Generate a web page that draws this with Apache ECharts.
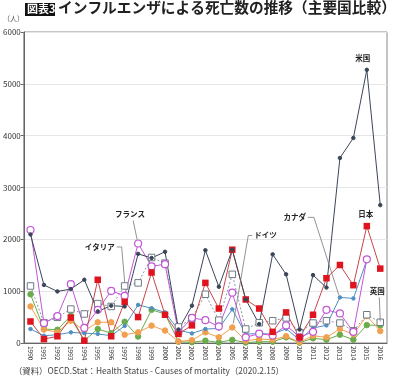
<!DOCTYPE html>
<html><head><meta charset="utf-8">
<script src="https://cdn.jsdelivr.net/npm/echarts@6/dist/echarts.min.js"></script>
<style>html,body{margin:0;padding:0;background:#fff}#c{width:394px;height:380px}</style>
</head><body><div id="c"></div>
<script>
const years = ['1990','1991','1992','1993','1994','1995','1996','1997','1998','1999','2000','2001','2002','2003','2004','2005','2006','2007','2008','2009','2010','2011','2012','2013','2014','2015','2016'];
const usa     = [2095,1120,995,1040,1220,610,720,705,1720,1640,1760,260,720,1790,1085,1800,840,365,1710,1325,260,1310,1070,3570,3955,5270,2660];
const japan   = [415,75,130,490,45,1220,130,795,500,1360,545,175,340,1160,665,1800,840,665,215,590,110,545,1250,1505,1115,2255,1435];
const france  = [2180,385,520,1135,290,640,1005,910,1920,1480,1520,205,485,440,320,970,110,180,145,340,115,215,640,570,215,1615,null];
const italy   = [1100,390,495,655,560,760,705,1100,1160,1650,1540,310,475,940,440,1325,270,390,430,485,200,385,430,385,235,545,400];
const canada  = [270,140,160,205,190,175,140,330,735,670,590,250,185,270,280,650,170,185,170,275,60,290,340,880,860,1600,null];
const germany = [705,260,205,430,237,400,400,160,205,335,240,30,55,205,110,300,45,75,65,130,15,140,110,270,170,520,230];
const uk      = [940,270,255,525,45,270,190,410,125,640,560,25,15,45,12,60,8,25,25,110,5,90,65,160,65,345,340];
const yTicks = [0,1000,2000,3000,4000,5000,6000];

const FONT = '"Noto Sans CJK JP", "Noto Sans", sans-serif';
const chart = echarts.init(document.getElementById('c'), null, {renderer:'canvas'});

function ser(name, data, color, symbol, size, opts) {
  return Object.assign({
    name, type:'line', data, symbol, symbolSize:size, showAllSymbol:true,
    connectNulls:false,
    lineStyle:{color, width:1},
    itemStyle:{color, borderColor:color, borderWidth:1},
    emphasis:{disabled:true}
  }, opts||{});
}

const staticGraphic = [
  {type:'rect', left:25, top:3, shape:{width:30, height:13}, style:{fill:'#111'}},
  {type:'text', left:27, top:3.5, style:{text:'図表3', fill:'#fff', font:'bold 11px '+FONT}},
  {type:'text', left:58, top:0.5, style:{text:'インフルエンザによる死亡数の推移（主要国比較）', fill:'#222', font:'bold 14.7px '+FONT}},
  {type:'text', left:3, top:15, style:{text:'（人）', fill:'#555', font:'7px '+FONT}},
  {type:'text', left:14, top:367, style:{text:'（資料）OECD.Stat：Health Status - Causes of mortality（2020.2.15）', fill:'#444', font:'8.4px '+FONT}}
];

chart.setOption({
  animation:false,
  grid:{left:23, right:7, top:32, bottom:37, show:true, borderColor:'#8a8a8a', borderWidth:1},
  xAxis:{type:'category', data:years, boundaryGap:true,
    axisLine:{lineStyle:{color:'#666'}}, axisTick:{show:false},
    axisLabel:{rotate:-90, fontSize:6.5, color:'#333', margin:3, interval:0, fontFamily:FONT}},
  yAxis:{type:'value', min:yTicks[0], max:yTicks[yTicks.length-1], interval:1000,
    axisLine:{show:true, lineStyle:{color:'#666'}}, axisTick:{show:true, length:3, lineStyle:{color:'#666'}},
    axisLabel:{fontSize:8, color:'#333', margin:3, fontFamily:FONT, formatter:(v)=>String(v)},
    splitLine:{lineStyle:{color:'#e6e6e6'}}},
  series:[
    ser('英国', uk, '#6aab4c', 'circle', 5.5),
    ser('ドイツ', germany, '#f0a04e', 'circle', 5.5),
    ser('カナダ', canada, '#4f8fc2', 'circle', 3.5),
    ser('イタリア', italy, '#8a96a2', 'rect', 6.5, {lineStyle:{color:'#8a96a2', width:1, type:[2,2]}, itemStyle:{color:'#fff', borderColor:'#6f7a85', borderWidth:1}}),
    ser('フランス', france, '#c256d6', 'circle', 7, {itemStyle:{color:'#fff', borderColor:'#c256d6', borderWidth:1.2}}),
    ser('日本', japan, '#d9262e', 'rect', 6.5, {lineStyle:{color:'#c8454a', width:1}, itemStyle:{color:'#e0141e'}}),
    ser('米国', usa, '#3a4658', 'circle', 3.5)
  ],
  graphic: staticGraphic
});

function px(i, v){ return chart.convertToPixel({gridIndex:0}, [i, v]); }
const lead = {stroke:'#777', lineWidth:0.8, fill:null};
const labelFont = 'bold 7.5px '+FONT;
const leaders = [];
function addLabel(text, x, y, align){
  leaders.push({type:'text', x, y, style:{text, fill:'#222', font:labelFont, textAlign:align||'left', textVerticalAlign:'middle'}});
}
function addLine(points){
  leaders.push({type:'polyline', shape:{points}, style:lead, z:200});
}
const pUS = px(25, usa[25]);
addLabel('米国', pUS[0]-4, pUS[1]-12, 'center');
const pJP = px(25, japan[25]);
addLabel('日本', pJP[0]-1, pJP[1]-12, 'center');
const pUK = px(26, uk[26]);
addLabel('英国', pUK[0]-3, pUK[1]-34, 'center');
addLine([[pUK[0]-1, pUK[1]-28],[pUK[0], pUK[1]-4]]);
const pCA = px(23, canada[23]);
addLabel('カナダ', pCA[0]-34, pCA[1]-80, 'right');
addLine([[pCA[0]-32, pCA[1]-80],[pCA[0]-26, pCA[1]-80],[pCA[0]-1, pCA[1]-2]]);
const pDE = px(15, germany[15]);
addLabel('ドイツ', pDE[0]+22, pDE[1]-92, 'left');
addLine([[pDE[0]+20, pDE[1]-92],[pDE[0]+16, pDE[1]-92],[pDE[0]+1, pDE[1]-4]]);
const pFR = px(8, france[8]);
addLabel('フランス', pFR[0]-8, pFR[1]-29, 'center');
addLine([[pFR[0]-5, pFR[1]-23],[pFR[0]-1, pFR[1]-4]]);
const pIT = px(7, italy[7]);
addLabel('イタリア', pIT[0]-10, pIT[1]-39, 'right');
addLine([[pIT[0]-8, pIT[1]-39],[pIT[0]-3, pIT[1]-39],[pIT[0], pIT[1]-4]]);

chart.setOption({graphic: staticGraphic.concat(leaders)}, {replaceMerge:['graphic']});
</script>
</body></html>
